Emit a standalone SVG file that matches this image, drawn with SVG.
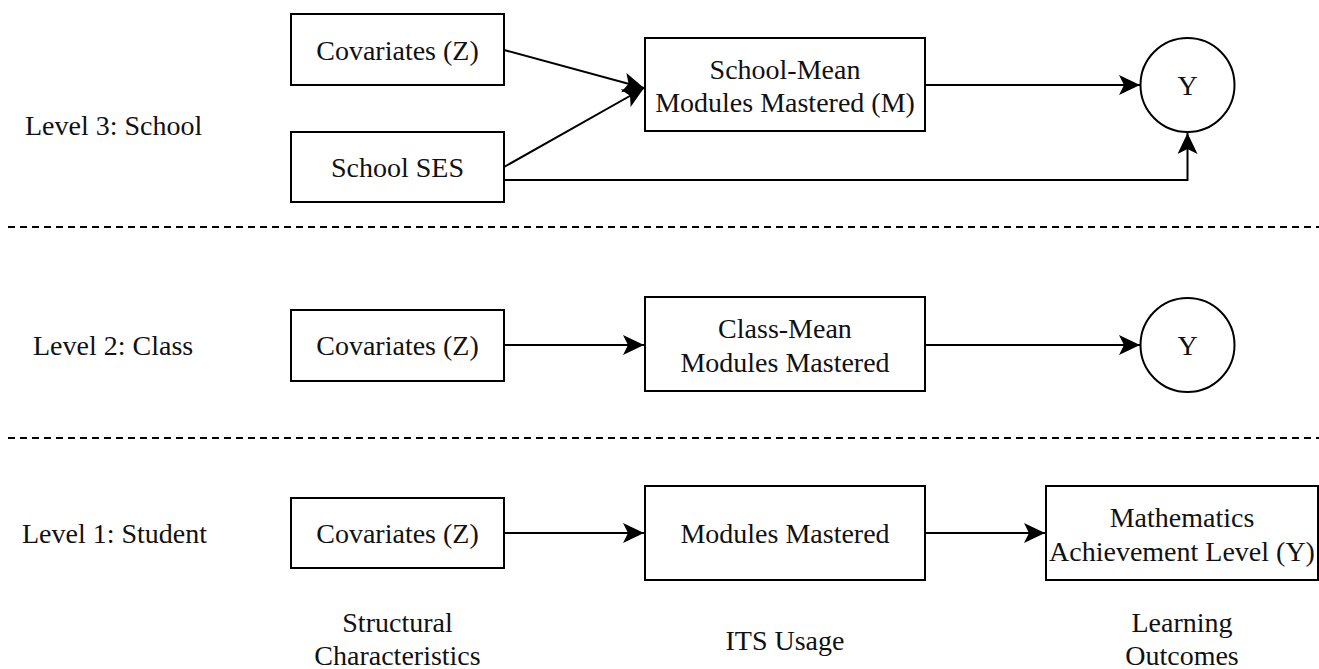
<svg xmlns="http://www.w3.org/2000/svg" width="1319" height="669" viewBox="0 0 1319 669">
<defs>
<style>
.box{fill:#fff;stroke:#000;stroke-width:2}
.t{font-family:"Liberation Serif","Times New Roman",serif;font-size:28px;fill:#111;text-anchor:middle;dominant-baseline:central}
.lbl{font-family:"Liberation Serif","Times New Roman",serif;font-size:28px;fill:#111;text-anchor:start;dominant-baseline:central}
.e{fill:none;stroke:#000;stroke-width:2}
.dash{fill:none;stroke:#000;stroke-width:2;stroke-dasharray:7 5}
</style>
<marker id="arr" viewBox="0 0 21 20" refX="21" refY="10" markerWidth="21" markerHeight="20" markerUnits="userSpaceOnUse" orient="auto">
<path d="M0,0 L21,10 L0,20 L5,10 Z" fill="#000"/>
</marker>
</defs>
<rect width="1319" height="669" fill="#fff"/>

<g id="dividers">
<line class="dash" x1="8" y1="227" x2="1319" y2="227"/>
<line class="dash" x1="8" y1="438" x2="1319" y2="438"/>
</g>

<g id="level-labels">
<text class="lbl" x="25" y="125">Level 3: School</text>
<text class="lbl" x="33" y="345">Level 2: Class</text>
<text class="lbl" x="22" y="533">Level 1: Student</text>
</g>

<g id="n-l3-cov"><rect class="box" x="291" y="14" width="213" height="71"/><text class="t" x="397.5" y="50">Covariates (Z)</text></g>
<g id="n-l3-ses"><rect class="box" x="291" y="132" width="213" height="70"/><text class="t" x="397.5" y="167">School SES</text></g>
<g id="n-l3-mean"><rect class="box" x="645" y="38" width="280" height="93"/><text class="t" x="785" y="69">School-Mean</text><text class="t" x="785" y="102">Modules Mastered (M)</text></g>
<g id="n-l3-y"><circle class="box" cx="1187.5" cy="85" r="47"/><text class="t" x="1187.5" y="85">Y</text></g>

<g id="n-l2-cov"><rect class="box" x="291" y="310" width="213" height="71"/><text class="t" x="397.5" y="345">Covariates (Z)</text></g>
<g id="n-l2-mean"><rect class="box" x="645" y="297" width="280" height="94"/><text class="t" x="785" y="328">Class-Mean</text><text class="t" x="785" y="362">Modules Mastered</text></g>
<g id="n-l2-y"><circle class="box" cx="1187.5" cy="345" r="47"/><text class="t" x="1187.5" y="345">Y</text></g>

<g id="n-l1-cov"><rect class="box" x="291" y="498" width="213" height="70"/><text class="t" x="397.5" y="533">Covariates (Z)</text></g>
<g id="n-l1-mod"><rect class="box" x="645" y="486" width="280" height="94"/><text class="t" x="785" y="533">Modules Mastered</text></g>
<g id="n-l1-math"><rect class="box" x="1046" y="486" width="272" height="94"/><text class="t" x="1182" y="517">Mathematics</text><text class="t" x="1182" y="551">Achievement Level (Y)</text></g>

<g id="column-labels">
<text class="t" x="397.5" y="622">Structural</text>
<text class="t" x="397.5" y="655">Characteristics</text>
<text class="t" x="785" y="640">ITS Usage</text>
<text class="t" x="1182" y="622">Learning</text>
<text class="t" x="1182" y="655">Outcomes</text>
</g>

<g id="connectors">
<line class="e" x1="504" y1="50" x2="644" y2="88" marker-end="url(#arr)"/>
<line class="e" x1="504" y1="167" x2="644" y2="88" marker-end="url(#arr)"/>
<polyline class="e" points="504,180 1187.5,180 1187.5,133" marker-end="url(#arr)"/>
<line class="e" x1="925" y1="85" x2="1140" y2="85" marker-end="url(#arr)"/>
<line class="e" x1="504" y1="345" x2="644" y2="345" marker-end="url(#arr)"/>
<line class="e" x1="925" y1="345" x2="1140" y2="345" marker-end="url(#arr)"/>
<line class="e" x1="504" y1="533" x2="644" y2="533" marker-end="url(#arr)"/>
<line class="e" x1="925" y1="533" x2="1045" y2="533" marker-end="url(#arr)"/>
</g>
</svg>
